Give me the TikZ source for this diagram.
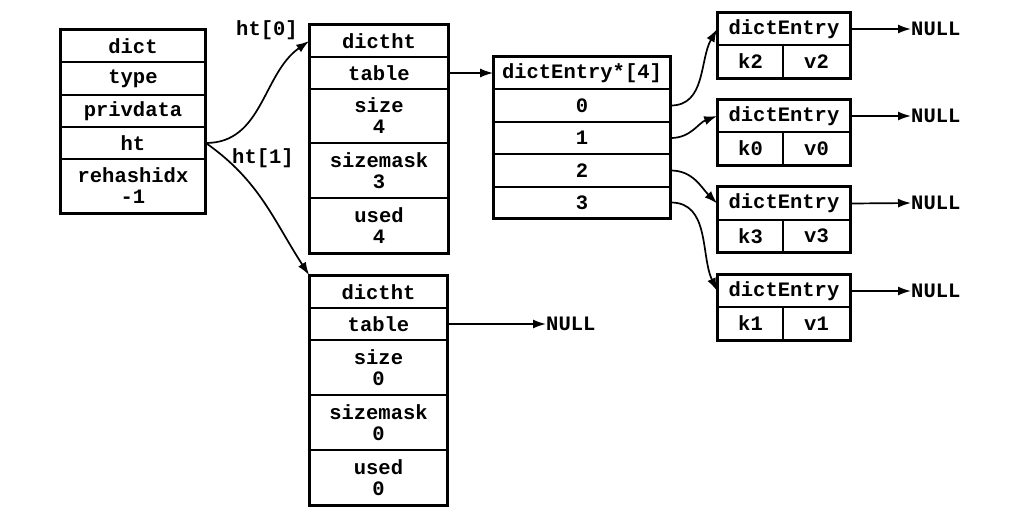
\documentclass[tikz,border=0pt]{standalone}
\usepackage{fontspec}
\setmainfont{Liberation Mono}
\usetikzlibrary{arrows.meta}
\newcommand\cellfont{\fontsize{20.5}{21}\selectfont\bfseries}
\newcommand\mkcell[6]{\node[cellst, minimum width={(#4-#2)*1pt}, minimum height={(#5-#3)*1pt}] (#1) at ({(#2+#4)/2},{(#3+#5)/2}) {#6};}
\tikzset{
  cellst/.style={draw, line width=1.7pt, inner sep=0pt, align=center, font=\cellfont},
  conn/.style={line width=1.7pt, -{Latex[length=13pt,width=9pt]}},
  outerbox/.style={line width=2.7pt},
  lbl/.style={inner sep=0pt, font=\cellfont}
}
\begin{document}
\begin{tikzpicture}[x=1pt,y=-1pt]
\fill[white] (0,0) rectangle (1028,520);
\useasboundingbox (0,0) rectangle (1028,520);
% dict
\mkcell{dict}{61}{30}{205}{62}{dict}
\mkcell{type}{61}{62}{205}{95}{type}
\mkcell{priv}{61}{95}{205}{127}{privdata}
\mkcell{ht}{61}{127}{205}{159}{ht}
\mkcell{rh}{61}{159}{205}{213}{rehashidx\\-1}
\draw[outerbox] (dict.north west) rectangle (rh.south east);
% ht0
\mkcell{ta}{310}{25}{448}{57}{dictht}
\mkcell{tb}{310}{57}{448}{89}{table}
\mkcell{tc}{310}{89}{448}{143}{size\\4}
\mkcell{td}{310}{143}{448}{198}{sizemask\\3}
\mkcell{te}{310}{198}{448}{253}{used\\4}
\draw[outerbox] (ta.north west) rectangle (te.south east);
% ht1
\mkcell{ua}{310}{276}{447}{308}{dictht}
\mkcell{ub}{310}{308}{447}{340}{table}
\mkcell{uc}{310}{340}{447}{395}{size\\0}
\mkcell{ud}{310}{395}{447}{450}{sizemask\\0}
\mkcell{ue}{310}{450}{447}{505}{used\\0}
\draw[outerbox] (ua.north west) rectangle (ue.south east);
% array
\mkcell{arr}{494}{57}{670}{89}{dictEntry*[4]}
\mkcell{r0}{494}{89}{670}{122}{0}
\mkcell{r1}{494}{122}{670}{154}{1}
\mkcell{r2}{494}{154}{670}{187}{2}
\mkcell{r3}{494}{187}{670}{218}{3}
\draw[outerbox] (arr.north west) rectangle (r3.south east);
% entries
\mkcell{ea}{718}{13}{850}{45}{dictEntry}
\mkcell{ek}{718}{45}{783}{78}{k2}
\mkcell{ev}{783}{45}{850}{78}{v2}
\draw[outerbox] (ea.north west) rectangle (ev.south east);
\mkcell{fa}{718}{100}{850}{132}{dictEntry}
\mkcell{fk}{718}{132}{783}{165}{k0}
\mkcell{fv}{783}{132}{850}{165}{v0}
\draw[outerbox] (fa.north west) rectangle (fv.south east);
\mkcell{ga}{718}{187}{850}{220}{dictEntry}
\mkcell{gk}{718}{220}{783}{252}{k3}
\mkcell{gv}{783}{220}{850}{252}{v3}
\draw[outerbox] (ga.north west) rectangle (gv.south east);
\mkcell{ha}{718}{275}{850}{307}{dictEntry}
\mkcell{hk}{718}{307}{783}{340}{k1}
\mkcell{hv}{783}{307}{850}{340}{v1}
\draw[outerbox] (ha.north west) rectangle (hv.south east);
% NULL nodes
\node[lbl, anchor=west] (n1) at (911,29) {NULL};
\node[lbl, anchor=west] (n2) at (911,116) {NULL};
\node[lbl, anchor=west] (n3) at (911,203) {NULL};
\node[lbl, anchor=west] (n4) at (911,291) {NULL};
\node[lbl, anchor=west] (n5) at (546,324) {NULL};
% labels
\node[lbl] (l0) at (267,30) {ht[0]};
\node[lbl] (l1) at (263,158) {ht[1]};
% connectors
\draw[conn] (ht.east) to[out=0,in=215] (ta.west);
\draw[conn] (ht.east) to[out=-35,in=123] (ua.north west);
\draw[conn] (tb.east) -- (arr.west);
\draw[conn] (ub.east) -- (n5.west);
\draw[conn] (r0.east) to[out=0,in=240] (ea.west);
\draw[conn] (r1.east) to[out=0,in=200] (fa.west);
\draw[conn] (r2.east) to[out=0,in=135] (ga.west);
\draw[conn] (r3.east) to[out=0,in=115] (ha.west);
\draw[conn] (ea.east) -- (n1.west);
\draw[conn] (fa.east) -- (n2.west);
\draw[conn] (ga.east) -- (n3.west);
\draw[conn] (ha.east) -- (n4.west);
\end{tikzpicture}
\end{document}
